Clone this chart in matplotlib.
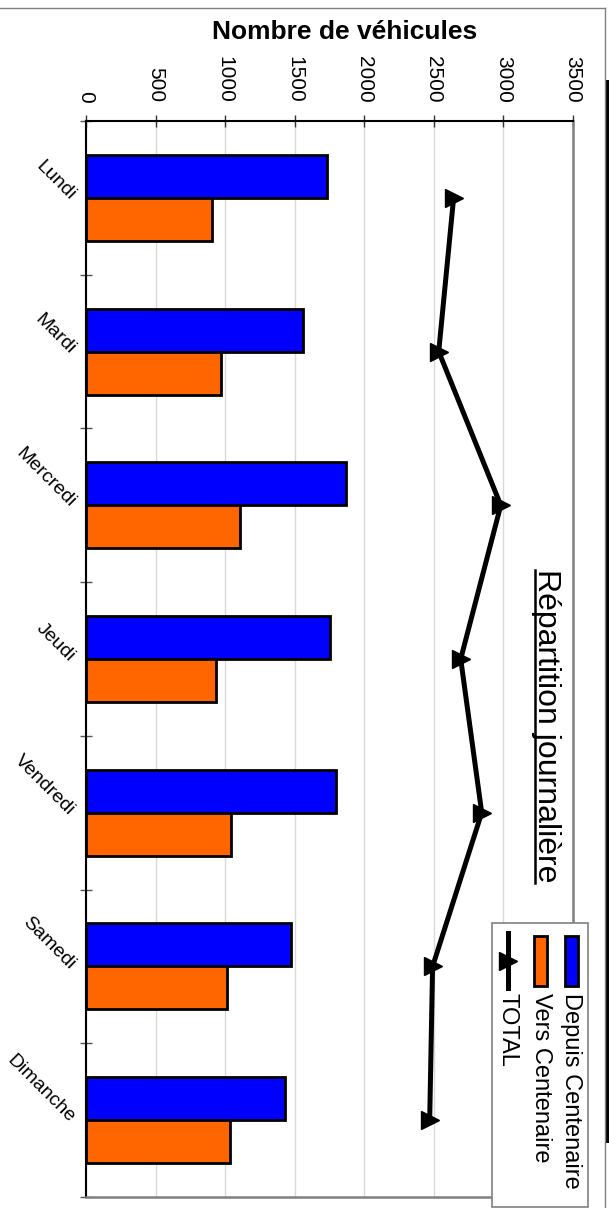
import numpy as np
import matplotlib.pyplot as plt
from matplotlib.transforms import Affine2D
from matplotlib.patches import Rectangle
from matplotlib.lines import Line2D

plt.rcParams['font.family'] = ['Liberation Sans', 'DejaVu Sans']

days = ['Lundi', 'Mardi', 'Mercredi', 'Jeudi', 'Vendredi', 'Samedi', 'Dimanche']
depuis = [1735, 1563, 1872, 1757, 1800, 1476, 1433]
vers = [907, 972, 1109, 936, 1044, 1015, 1037]
total = [2642, 2535, 2981, 2693, 2844, 2491, 2470]
value_ticks = [0, 500, 1000, 1500, 2000, 2500, 3000, 3500]

W, H = 609, 1208
fig = plt.figure(figsize=(W / 100, H / 100), dpi=100)
# pixel coordinates, y measured from the top of the image
px = Affine2D().scale(1 / W, -1 / H).translate(0, 1) + fig.transFigure

left, right, top, bottom = 86, 573, 121, 1197
ax = fig.add_axes([left / W, 1 - bottom / H, (right - left) / W, (bottom - top) / H])

pos = np.arange(len(days))
bh = 0.28
ax.barh(pos - bh / 2, depuis, height=bh, color='#0000FF', edgecolor='black', linewidth=2, zorder=2)
ax.barh(pos + bh / 2, vers, height=bh, color='#FF6600', edgecolor='black', linewidth=2, zorder=2)
ax.plot(total, pos, color='black', lw=3.6, marker='>', markersize=12.5, zorder=3)

ax.set_xlim(0, 3500)
ax.set_ylim(len(days) - 0.5, -0.5)
ax.xaxis.tick_top()
ax.set_xticks(value_ticks)
ax.set_xticklabels([str(v) for v in value_ticks], rotation=-90, fontsize=15)
ax.tick_params(axis='x', direction='inout', length=8.5, width=1, color='#333333', pad=9)

ax.set_yticks(pos)
ax.set_yticklabels(days, fontsize=14)
plt.setp(ax.get_yticklabels(), rotation=-45, ha='right', va='center', rotation_mode='anchor')
ax.tick_params(axis='y', which='major', length=0, pad=10)
ax.set_yticks(np.arange(len(days) + 1) - 0.5, minor=True)
ax.tick_params(axis='y', which='minor', direction='inout', length=8.5, width=1, color='#555555')

ax.grid(axis='x', color='#d9d9d9', lw=1, zorder=0)
ax.set_axisbelow(True)
for s in ['top', 'left']:
    ax.spines[s].set_color('black')
    ax.spines[s].set_linewidth(1.5)
for s in ['right', 'bottom']:
    ax.spines[s].set_color('#808080')
    ax.spines[s].set_linewidth(1.8)

# titles
fig.text(345, 39, 'Nombre de véhicules', ha='center', va='baseline', fontsize=19,
         fontweight='bold', transform=px)
fig.text(538, 726, 'Répartition journalière', rotation=-90, rotation_mode='anchor',
         ha='center', va='baseline', fontsize=23, transform=px)
fig.add_artist(Line2D([535, 535], [570, 883], color='black', lw=1.8, transform=px))

# legend
fig.add_artist(Rectangle((492, 923), 96, 284, facecolor='white', edgecolor='#808080',
                         lw=1.2, transform=px, zorder=4))
fig.add_artist(Rectangle((565, 936), 13, 50, facecolor='#0000FF', edgecolor='black',
                         lw=2, transform=px, zorder=5))
fig.add_artist(Rectangle((534, 936), 13, 50, facecolor='#FF6600', edgecolor='black',
                         lw=2, transform=px, zorder=5))
fig.add_artist(Line2D([508, 508], [933, 988], color='black', lw=3.6, transform=px, zorder=5))
fig.add_artist(Line2D([508], [961], color='black', marker='>', markersize=12.5, lw=0,
                      transform=px, zorder=5))
for xx, lab in [(571, 'Depuis Centenaire'), (541, 'Vers Centenaire'), (508, 'TOTAL')]:
    fig.text(xx, 993, lab, rotation=-90, rotation_mode='anchor', ha='left', va='center',
             fontsize=17, transform=px, zorder=6)

# outer frame
fig.add_artist(Line2D([0, 605], [8, 8], color='#808080', lw=1, transform=px))
fig.add_artist(Line2D([605, 605], [8, 1208], color='#808080', lw=1, transform=px))
fig.add_artist(Rectangle((605, 80), 4, 1063, facecolor='black', edgecolor='none', transform=px))

fig.savefig('out.png', dpi=100, facecolor='white')
